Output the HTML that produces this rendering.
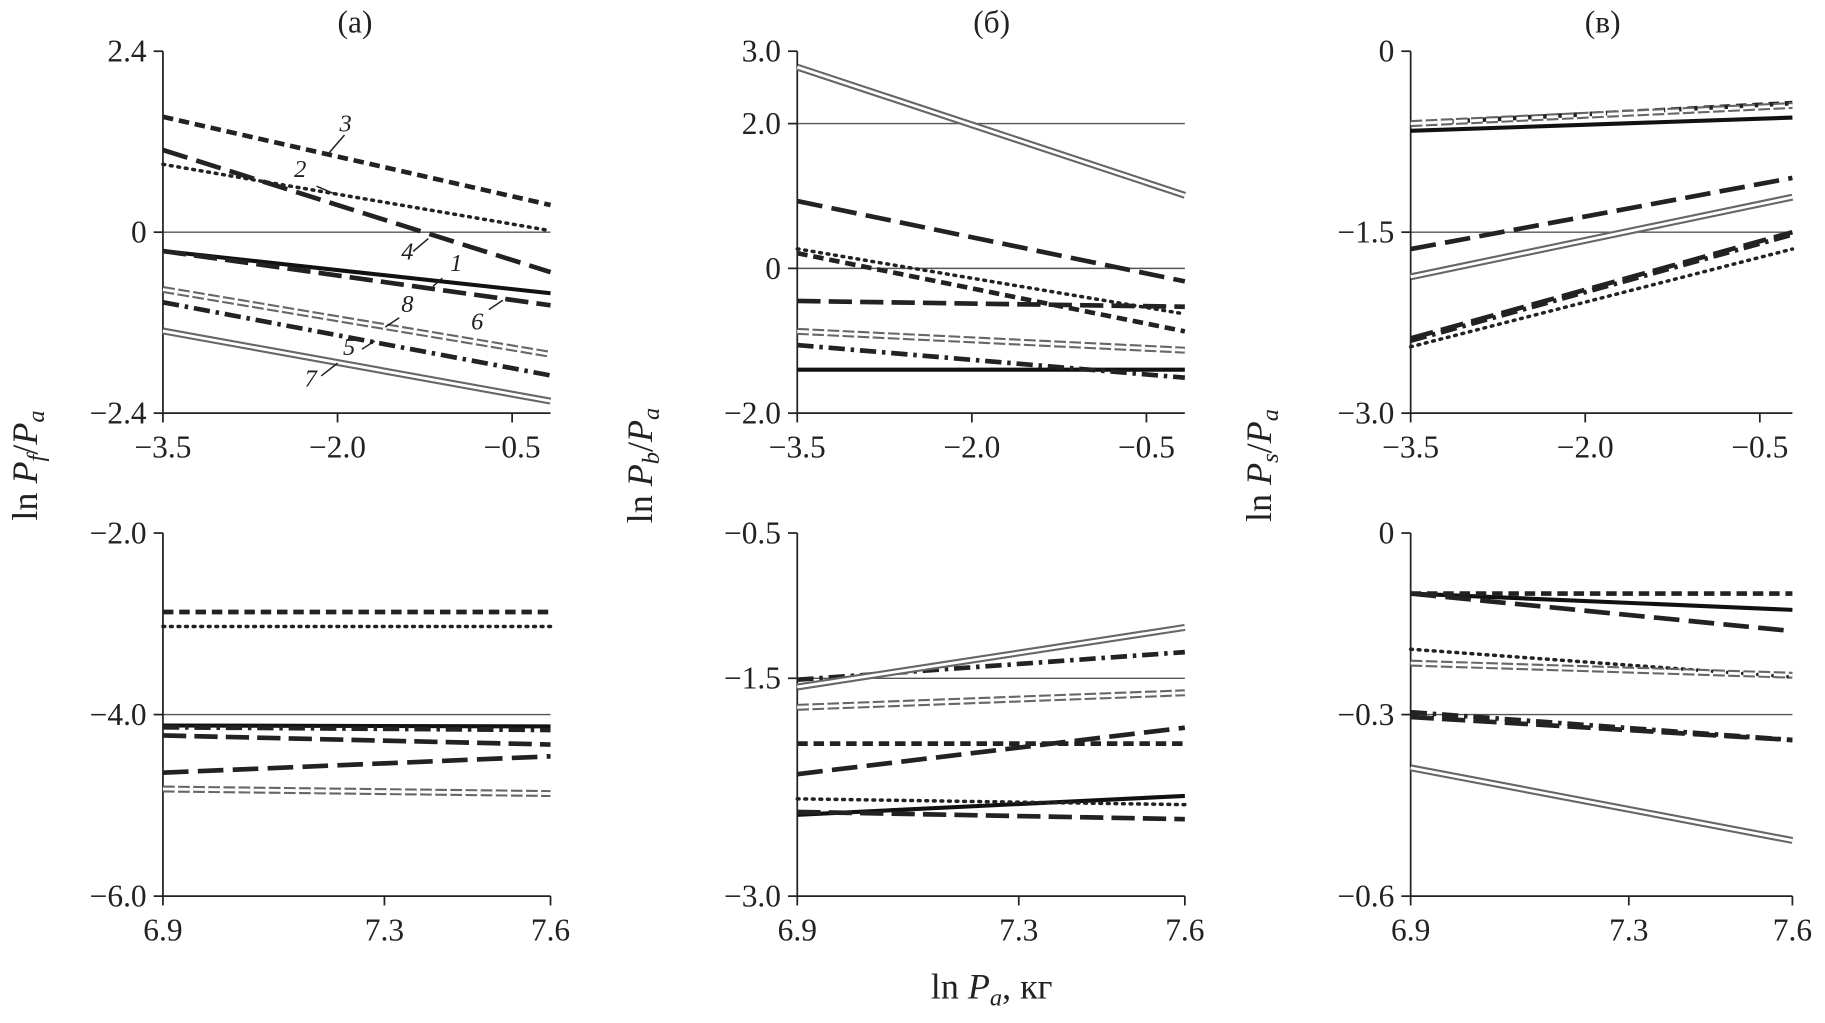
<!DOCTYPE html>
<html><head><meta charset="utf-8"><style>
html,body{margin:0;padding:0;background:#fff;}
svg{display:block;}
text{font-family:"Liberation Serif",serif;fill:#222;}
</style></head><body>
<svg id="chart" width="1825" height="1023" viewBox="0 0 1568 879" preserveAspectRatio="none" xmlns="http://www.w3.org/2000/svg">
<rect width="1568" height="879" fill="#fff"/>
<g id="root"></g>
</svg>
<script>
// series order: curves 1..8
const seriesNames = ['1','2','3','4','5','6','7','8'];
const topXTicks = [-3.5, -2.0, -0.5];
const botXTicks = [6.9, 7.3, 7.6];
const aTopYTicks = [2.4, 0, -2.4];
const bTopYTicks = [3.0, 2.0, 0, -2.0];
const cTopYTicks = [0, -1.5, -3.0];
const aBotYTicks = [-2.0, -4.0, -6.0];
const bBotYTicks = [-0.5, -1.5, -3.0];
const cBotYTicks = [0, -0.3, -0.6];
const aTopStart = [-0.25, 0.9, 1.53, 1.09, -0.93, -0.25, -1.31, -0.76];
const aTopEnd   = [-0.81, 0.02, 0.36, -0.53, -1.9, -0.97, -2.24, -1.62];
const bTopStart = [-1.4, 0.27, 0.21, 0.93, -1.06, -0.45, 2.78, -0.87];
const bTopEnd   = [-1.4, -0.63, -0.87, -0.18, -1.51, -0.53, 1.01, -1.13];
const cTopStart = [-0.66, -2.45, -0.6, -1.64, -2.4, -2.38, -1.87, -0.6];
const cTopEnd   = [-0.55, -1.64, -0.43, -1.05, -1.52, -1.5, -1.21, -0.45];
const aBotStart = [-4.12, -3.03, -2.87, -4.64, -4.14, -4.23, null, -4.82];
const aBotEnd   = [-4.13, -3.03, -2.87, -4.46, -4.17, -4.33, null, -4.87];
const bBotStart = [-2.44, -2.33, -1.95, -2.16, -1.51, -2.42, -1.56, -1.7];
const bBotEnd   = [-2.31, -2.37, -1.95, -1.84, -1.32, -2.47, -1.15, -1.6];
const cBotStart = [-0.1, -0.192, -0.1, -0.1, -0.296, -0.304, -0.388, -0.215];
const cBotEnd   = [-0.127, -0.238, -0.1, -0.162, -0.342, -0.342, -0.508, -0.235];

const NS='http://www.w3.org/2000/svg';
const root=document.getElementById('root');
function mk(tag,attrs,parent){const e=document.createElementNS(NS,tag);for(const k in attrs)e.setAttribute(k,attrs[k]);(parent||root).appendChild(e);return e;}

const styles={
 '1':[{stroke:'#111','stroke-width':3.5}],
 '2':[{stroke:'#222','stroke-width':3,'stroke-dasharray':'1.5 5','stroke-linecap':'round'}],
 '3':[{stroke:'#222','stroke-width':4,'stroke-dasharray':'9 5'}],
 '4':[{stroke:'#222','stroke-width':4,'stroke-dasharray':'22 8'}],
 '5':[{stroke:'#222','stroke-width':4,'stroke-dasharray':'14 5 3 5'}],
 '6':[{stroke:'#222','stroke-width':4,'stroke-dasharray':'20 7'}],
 '7':[{stroke:'#666','stroke-width':6},{stroke:'#fff','stroke-width':2.4}],
 '8':[{stroke:'#666','stroke-width':6,'stroke-dasharray':'10 3'},{stroke:'#fff','stroke-width':2.4,'stroke-dasharray':'10 3'}]
};

function panel(cfg){
 const g=mk('g',{});
 
 
 const xs=v=>cfg.x0+(v-cfg.xmin)/(cfg.xmax-cfg.xmin)*(cfg.x1-cfg.x0);
 const ys=v=>cfg.y1+(v-cfg.ymin)/(cfg.ymax-cfg.ymin)*(cfg.y0-cfg.y1);
 const ref=mk('line',{x1:cfg.x0,x2:cfg.xe,y1:ys(cfg.refY),y2:ys(cfg.refY),stroke:'#555','stroke-width':1.2},g);
 
 
 if(cfg.refY2!==undefined){const r2=mk('line',{x1:cfg.x0,x2:cfg.xe,y1:ys(cfg.refY2),y2:ys(cfg.refY2),stroke:'#555','stroke-width':1.2},g);
  
  }
 const ax=mk('path',{d:`M${cfg.x0},${cfg.y0}V${cfg.y1}H${cfg.xe}`,fill:'none',stroke:'#222','stroke-width':1.5},g);
 
 
 cfg.yt.forEach(v=>{const y=ys(v);
  mk('line',{x1:cfg.x0-8,x2:cfg.x0,y1:y,y2:y,stroke:'#222','stroke-width':1.5},g);
  const t=mk('text',{x:cfg.x0-14,y:y+9,'text-anchor':'end','font-size':27},g);
  t.textContent=(v<0?'\u2212':'')+Math.abs(v).toFixed(1);
  if(v===0)t.textContent='0';
  
  });
 cfg.xt.forEach(v=>{const x=xs(v);
  mk('line',{x1:x,x2:x,y1:cfg.y1,y2:cfg.y1+8,stroke:'#222','stroke-width':1.5},g);
  const t=mk('text',{x:x,y:cfg.y1+38,'text-anchor':'middle','font-size':27},g);
  t.textContent=(v<0?'\u2212':'')+Math.abs(v).toFixed(1);
  
  });
 seriesNames.forEach((s,i)=>{
  if(cfg.start[i]===null)return;
  styles[s].forEach(st=>{
   const l=mk('line',Object.assign({x1:xs(cfg.xmin),x2:xs(cfg.xend),y1:ys(cfg.start[i]),y2:ys(cfg.end[i])},st),g);
   
   
  });
 });
}
const T={y0:44,y1:355}, B={y0:458,y1:770};
panel({name:'panel-a-top',x0:140,x1:440,xe:473,xmin:-3.5,xmax:-0.5,xend:-0.17,y0:T.y0,y1:T.y1,ymin:-2.4,ymax:2.4,refY:0,yt:aTopYTicks,xt:topXTicks,start:aTopStart,end:aTopEnd});
panel({name:'panel-b-top',x0:685,x1:985,xe:1018,xmin:-3.5,xmax:-0.5,xend:-0.17,y0:T.y0,y1:T.y1,ymin:-2.0,ymax:3.0,refY:0,refY2:2.0,yt:bTopYTicks,xt:topXTicks,start:bTopStart,end:bTopEnd});
panel({name:'panel-c-top',x0:1212,x1:1512,xe:1540,xmin:-3.5,xmax:-0.5,xend:-0.22,y0:T.y0,y1:T.y1,ymin:-3.0,ymax:0,refY:-1.5,yt:cTopYTicks,xt:topXTicks,start:cTopStart,end:cTopEnd});
panel({name:'panel-a-bottom',x0:140,x1:473,xe:473,xmin:6.9,xmax:7.6,xend:7.6,y0:B.y0,y1:B.y1,ymin:-6.0,ymax:-2.0,refY:-4.0,yt:aBotYTicks,xt:botXTicks,start:aBotStart,end:aBotEnd});
panel({name:'panel-b-bottom',x0:685,x1:1018,xe:1018,xmin:6.9,xmax:7.6,xend:7.6,y0:B.y0,y1:B.y1,ymin:-3.0,ymax:-0.5,refY:-1.5,yt:bBotYTicks,xt:botXTicks,start:bBotStart,end:bBotEnd});
panel({name:'panel-c-bottom',x0:1212,x1:1540,xe:1540,xmin:6.9,xmax:7.6,xend:7.6,y0:B.y0,y1:B.y1,ymin:-0.6,ymax:0,refY:-0.3,yt:cBotYTicks,xt:botXTicks,start:cBotStart,end:cBotEnd});

const labels=[['3',297,113,283,131,296,116],['2',258,152,272,160,286,166],['4',350,223,355,216,368,205],['1',392,233,380,239,372,246],['6',410,283,420,266,432,258],['8',350,268,343,273,331,281],['5',300,305,311,300,322,293],['7',267,332,276,323,290,312]];
labels.forEach(l=>{
 const ln=mk('line',{x1:l[3],y1:l[4],x2:l[5],y2:l[6],stroke:'#222','stroke-width':1.3});
 
 
 const t=mk('text',{x:l[1],y:l[2],'font-size':21,'font-style':'italic','text-anchor':'middle'});
 t.textContent=l[0];
 
 
});
</script>
<svg style="position:absolute;left:0;top:0;pointer-events:none" width="1825" height="1023" viewBox="0 0 1568 879" preserveAspectRatio="none">
<text x="305" y="28" text-anchor="middle" font-size="27" font-family="Liberation Serif,serif">(а)</text>
<text x="852" y="28" text-anchor="middle" font-size="27" font-family="Liberation Serif,serif">(б)</text>
<text x="1377" y="28" text-anchor="middle" font-size="27" font-family="Liberation Serif,serif">(в)</text>
<text transform="translate(32,400) rotate(-90)" text-anchor="middle" font-size="31" font-family="Liberation Serif,serif">ln<tspan font-style="italic"> P</tspan><tspan font-style="italic" font-size="21" dy="6">f</tspan><tspan dy="-6">/</tspan><tspan font-style="italic">P</tspan><tspan font-style="italic" font-size="21" dy="6">a</tspan></text>
<text transform="translate(560,400) rotate(-90)" text-anchor="middle" font-size="31" font-family="Liberation Serif,serif">ln<tspan font-style="italic"> P</tspan><tspan font-style="italic" font-size="21" dy="6">b</tspan><tspan dy="-6">/</tspan><tspan font-style="italic">P</tspan><tspan font-style="italic" font-size="21" dy="6">a</tspan></text>
<text transform="translate(1092,400) rotate(-90)" text-anchor="middle" font-size="31" font-family="Liberation Serif,serif">ln<tspan font-style="italic"> P</tspan><tspan font-style="italic" font-size="21" dy="6">s</tspan><tspan dy="-6">/</tspan><tspan font-style="italic">P</tspan><tspan font-style="italic" font-size="21" dy="6">a</tspan></text>
<text x="852" y="858" text-anchor="middle" font-size="31" font-family="Liberation Serif,serif">ln<tspan font-style="italic"> P</tspan><tspan font-style="italic" font-size="21" dy="6">a</tspan><tspan dy="-6">, кг</tspan></text>
</svg>
</body></html>
